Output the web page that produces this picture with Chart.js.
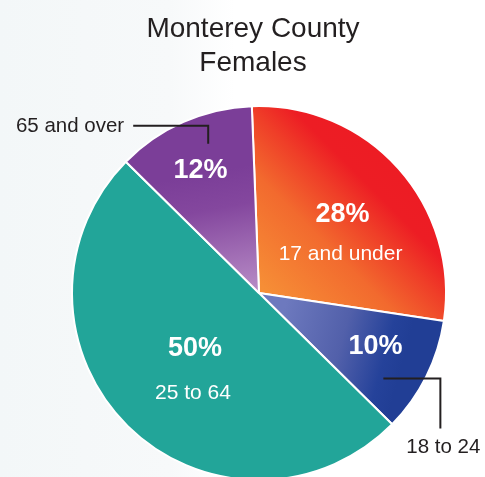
<!DOCTYPE html>
<html><head><meta charset="utf-8">
<script src="https://cdn.jsdelivr.net/npm/chart.js@4/dist/chart.umd.min.js"></script>
<style>
html,body{margin:0;padding:0;width:485px;height:477px;overflow:hidden;}
body{background:linear-gradient(to right,#f3f7f8 0px,#f7f9fa 170px,#ffffff 235px);}
#wrap{position:relative;width:485px;height:500px;}
canvas{display:block;}
</style></head><body>
<div id="wrap"><canvas id="c" width="485" height="500"></canvas></div>
<script>
const titleLines = ['Monterey County', 'Females'];
const categories = ['17 and under', '18 to 24', '25 to 64', '65 and over'];
const values = [28, 10, 50, 12];
const valueLabels = ['28%', '10%', '50%', '12%'];

const FONT = '"Liberation Sans", Arial, Helvetica, sans-serif';
const rad = d => d * Math.PI / 180;

// label placement styles (radius fraction, angle offset deg, inside subtitle?)
const labelStyle = [
  {r: 0.613, da: -1.4, sub: true, subDy: 40},
  {r: 0.686, da: -1.8, sub: false},
  {r: 0.455, da: 4.2, sub: true, subDy: 44},
  {r: 0.725, da: -1.8, sub: false}
];

function sliceFill(ctx) {
  const chart = ctx.chart;
  const i = ctx.dataIndex;
  const ca = chart.chartArea;
  const c = chart.ctx;
  if (!ca) return '#22a599';
  const cx = (ca.left + ca.right) / 2, cy = (ca.top + ca.bottom) / 2;
  const R = Math.min(ca.right - ca.left, ca.bottom - ca.top) / 2;
  const P = (fx, fy) => [cx + fx * R, cy + fy * R];
  let g, a, b;
  if (i === 0) {
    a = P(0.024, -0.024); b = P(0.70, -0.70);
    g = c.createLinearGradient(a[0], a[1], b[0], b[1]);
    g.addColorStop(0, '#f68e36');
    g.addColorStop(0.42, '#f26a2e');
    g.addColorStop(0.66, '#ef3e28');
    g.addColorStop(0.82, '#ed1d24');
    g.addColorStop(1, '#ed1c24');
    return g;
  }
  if (i === 1) {
    a = P(0.14, 0.06); b = P(0.80, 0.24);
    g = c.createLinearGradient(a[0], a[1], b[0], b[1]);
    g.addColorStop(0, '#6d79be');
    g.addColorStop(0.5, '#5260aa');
    g.addColorStop(0.85, '#25429a');
    g.addColorStop(1, '#213e95');
    return g;
  }
  if (i === 3) {
    a = P(-0.16, -0.66); b = P(-0.04, -0.02);
    g = c.createLinearGradient(a[0], a[1], b[0], b[1]);
    g.addColorStop(0, '#7b3e98');
    g.addColorStop(0.3, '#84479e');
    g.addColorStop(1, '#b68ac5');
    return g;
  }
  return '#22a599';
}

const labelPlugin = {
  id: 'labels',
  afterDatasetsDraw(chart) {
    const c = chart.ctx;
    const meta = chart.getDatasetMeta(0);
    c.save();
    c.textAlign = 'center';
    c.textBaseline = 'middle';
    meta.data.forEach((arc, i) => {
      const p = arc.getProps(['x', 'y', 'startAngle', 'endAngle', 'outerRadius'], true);
      const st = labelStyle[i];
      const mid = (p.startAngle + p.endAngle) / 2 + rad(st.da);
      const lx = p.x + Math.cos(mid) * p.outerRadius * st.r;
      const ly = p.y + Math.sin(mid) * p.outerRadius * st.r;
      c.fillStyle = '#ffffff';
      c.font = 'bold 27px ' + FONT;
      c.fillText(valueLabels[i], lx, ly);
      if (st.sub) {
        c.font = '21px ' + FONT;
        c.fillText(categories[i], lx - 2, ly + st.subDy);
      }
    });

    // callouts
    c.strokeStyle = '#231f20';
    c.fillStyle = '#231f20';
    c.lineWidth = 2;
    c.font = '20.5px ' + FONT;
    // 65 and over
    {
      const arc = meta.data[3];
      const p = arc.getProps(['x', 'y', 'startAngle', 'endAngle', 'outerRadius'], true);
      const a = (p.startAngle + p.endAngle) / 2 + rad(5.0);
      const ax = p.x + Math.cos(a) * p.outerRadius * 0.843;
      const ay = p.y + Math.sin(a) * p.outerRadius * 0.843;
      c.beginPath();
      c.moveTo(ax, ay);
      c.lineTo(ax, ay - 18);
      c.lineTo(ax - 75, ay - 18);
      c.stroke();
      c.textAlign = 'right';
      c.fillText(categories[3], ax - 84, ay - 17);
    }
    // 18 to 24
    {
      const arc = meta.data[1];
      const p = arc.getProps(['x', 'y', 'startAngle', 'endAngle', 'outerRadius'], true);
      const a = (p.startAngle + p.endAngle) / 2 + rad(7.9);
      const ax = p.x + Math.cos(a) * p.outerRadius * 0.807;
      const ay = p.y + Math.sin(a) * p.outerRadius * 0.807;
      c.beginPath();
      c.moveTo(ax, ay);
      c.lineTo(ax + 57, ay);
      c.lineTo(ax + 57, ay + 50);
      c.stroke();
      c.textAlign = 'center';
      c.fillText(categories[1], ax + 60, ay + 69);
    }

    // title
    const ca = chart.chartArea;
    const tx = (ca.left + ca.right) / 2 - 6;
    c.textAlign = 'center';
    c.fillStyle = '#231f20';
    c.font = '28px ' + FONT;
    titleLines.forEach((t, k) => c.fillText(t, tx, 29 + k * 34));
    c.restore();
  }
};

new Chart(document.getElementById('c'), {
  type: 'pie',
  data: {
    labels: categories,
    datasets: [{
      data: values,
      backgroundColor: sliceFill,
      borderColor: '#ffffff',
      borderWidth: 2,
      hoverOffset: 0
    }]
  },
  options: {
    responsive: false,
    animation: false,
    rotation: -2.2,
    layout: {padding: {top: 105, bottom: 19, left: 71, right: 38}},
    plugins: {
      legend: {display: false},
      title: {display: false},
      tooltip: {enabled: false}
    }
  },
  plugins: [labelPlugin]
});
</script>
</body></html>
